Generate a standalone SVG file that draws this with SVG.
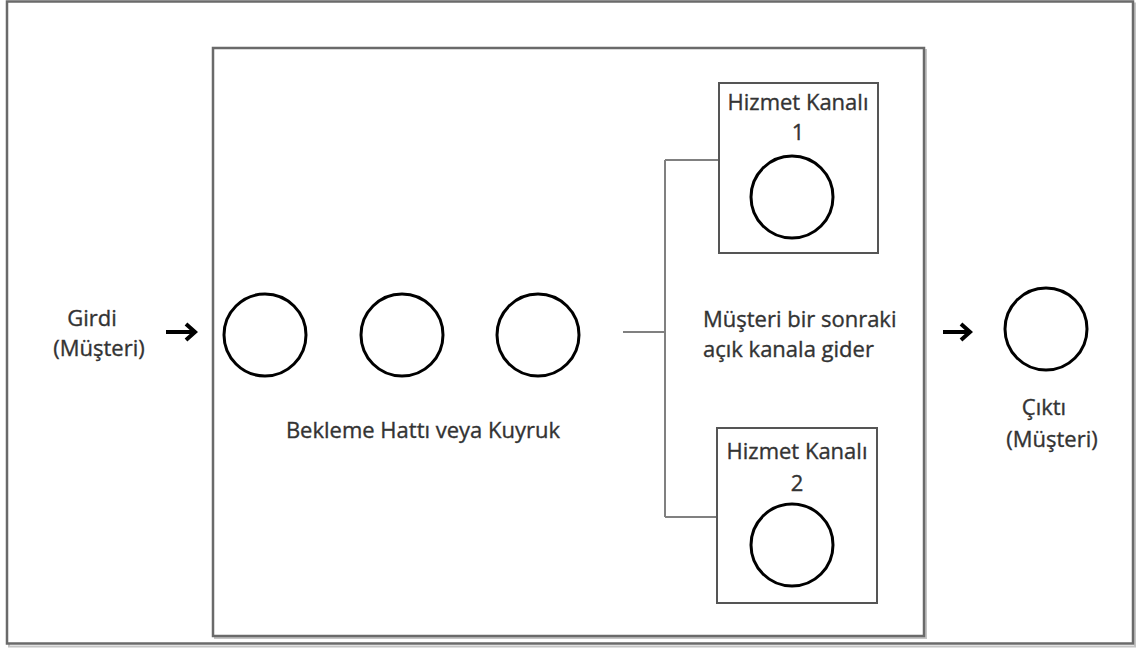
<svg xmlns="http://www.w3.org/2000/svg" width="1136" height="651" viewBox="0 0 1136 651">
  <style>
    .frame { fill: #ffffff; stroke: #6a6a6a; stroke-width: 2.5; }
    .shade { fill: none; stroke: #c4c4c4; stroke-width: 2; }
    .box { fill: #ffffff; stroke: #555555; stroke-width: 2; }
    .cust { fill: #ffffff; stroke: #000000; stroke-width: 3; }
    .wire { fill: none; stroke: #808080; stroke-width: 2; }
    .arrow { fill: none; stroke: #000000; stroke-width: 4; stroke-linecap: butt; }
    .lbl { font-family: "Open Sans", "Liberation Sans", sans-serif; font-size: 22px; fill: #333333; stroke: #333333; stroke-width: 0.35; }
    .mid { text-anchor: middle; }
  </style>

  <!-- system boundary -->
  <g id="system">
    <rect class="shade" x="9" y="3.5" width="1126" height="643"/>
    <rect class="frame" x="7" y="1.5" width="1126" height="642"/>
  </g>

  <!-- waiting area -->
  <g id="queue-area">
    <rect class="shade" x="215" y="50" width="711" height="588"/>
    <rect class="frame" x="213" y="48" width="711" height="588"/>
  </g>

  <!-- incoming customer -->
  <g id="input">
    <text class="lbl mid" x="92" y="326">Girdi</text>
    <text class="lbl mid" x="99" y="356">(Müşteri)</text>
    <path class="arrow" d="M166 332 H194 M186 324 L195 332 L186 340"/>
  </g>

  <!-- customers waiting in line -->
  <g id="queue">
    <circle class="cust" cx="265" cy="335" r="41"/>
    <circle class="cust" cx="402" cy="335" r="41"/>
    <circle class="cust" cx="538" cy="335" r="41"/>
    <text class="lbl mid" x="423" y="438">Bekleme Hattı veya Kuyruk</text>
  </g>

  <!-- routing from the queue to the servers -->
  <g id="connectors">
    <path class="wire" d="M623 332 H665"/>
    <path class="wire" d="M665 160 V517"/>
    <path class="wire" d="M665 160 H719"/>
    <path class="wire" d="M665 517 H717"/>
  </g>

  <g id="routing-note">
    <text class="lbl" x="703" y="327">Müşteri bir sonraki</text>
    <text class="lbl" x="703" y="357">açık kanala gider</text>
  </g>

  <!-- service channel 1 -->
  <g id="channel-1">
    <rect class="box" x="719" y="83" width="159" height="170"/>
    <text class="lbl mid" x="798" y="110">Hizmet Kanalı</text>
    <text class="lbl mid" x="798" y="140">1</text>
    <circle class="cust" cx="792" cy="197" r="41"/>
  </g>

  <!-- service channel 2 -->
  <g id="channel-2">
    <rect class="box" x="717" y="428" width="160" height="175"/>
    <text class="lbl mid" x="797" y="459">Hizmet Kanalı</text>
    <text class="lbl mid" x="797" y="491">2</text>
    <circle class="cust" cx="792" cy="545" r="41"/>
  </g>

  <!-- departing customer -->
  <g id="output">
    <path class="arrow" d="M943 332 H969 M961 324 L970 332 L961 340"/>
    <circle class="cust" cx="1046" cy="329" r="41"/>
    <text class="lbl mid" x="1044" y="415">Çıktı</text>
    <text class="lbl mid" x="1052" y="447">(Müşteri)</text>
  </g>
</svg>
